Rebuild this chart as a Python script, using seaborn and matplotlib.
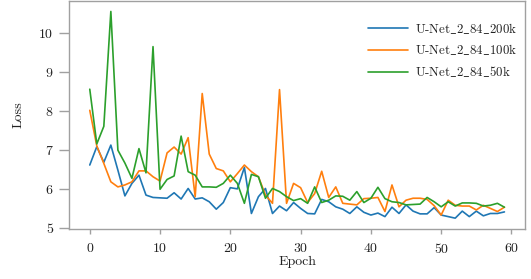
import matplotlib
matplotlib.use("Agg")
import matplotlib.pyplot as plt
import seaborn as sns
import pandas as pd

epochs = list(range(60))

loss_200k = [6.61, 7.08, 6.68, 7.12, 6.48, 5.82, 6.14, 6.35, 5.84, 5.78,
             5.77, 5.76, 5.90, 5.74, 6.01, 5.74, 5.77, 5.67, 5.48, 5.65,
             6.03, 6.00, 6.55, 5.37, 5.80, 6.01, 5.37, 5.56, 5.44, 5.65,
             5.50, 5.37, 5.36, 5.73, 5.67, 5.54, 5.48, 5.37, 5.54, 5.40,
             5.33, 5.38, 5.29, 5.53, 5.37, 5.59, 5.43, 5.36, 5.36, 5.52,
             5.33, 5.29, 5.25, 5.43, 5.29, 5.43, 5.31, 5.37, 5.37, 5.41]

loss_100k = [8.01, 7.10, 6.65, 6.18, 6.05, 6.10, 6.18, 6.46, 6.46, 6.31,
             6.20, 6.92, 7.07, 6.89, 7.31, 5.80, 8.44, 6.89, 6.52, 6.46,
             6.18, 6.39, 6.61, 6.44, 6.31, 5.84, 5.63, 8.54, 5.63, 6.14,
             6.03, 5.65, 5.88, 6.45, 5.78, 6.05, 5.63, 5.61, 5.59, 5.75,
             5.76, 5.78, 5.42, 6.10, 5.54, 5.71, 5.76, 5.76, 5.73, 5.57,
             5.33, 5.71, 5.58, 5.56, 5.56, 5.46, 5.58, 5.50, 5.42, 5.53]

loss_50k = [8.55, 7.15, 7.60, 10.54, 6.99, 6.66, 6.27, 7.03, 6.41, 9.64,
            5.99, 6.24, 6.33, 7.35, 6.44, 6.35, 6.05, 6.05, 6.04, 6.14,
            6.35, 6.14, 5.63, 6.37, 6.31, 5.76, 6.01, 5.93, 5.80, 5.70,
            5.75, 5.63, 6.05, 5.65, 5.71, 5.82, 5.81, 5.71, 5.93, 5.65,
            5.76, 6.04, 5.75, 5.67, 5.65, 5.59, 5.60, 5.61, 5.78, 5.67,
            5.54, 5.67, 5.56, 5.64, 5.64, 5.63, 5.56, 5.58, 5.63, 5.53]

# cmr10 has no plain underscore glyph, so the underscores go through mathtext
models = [r"U-Net$\_$2$\_$84$\_$200k", r"U-Net$\_$2$\_$84$\_$100k",
          r"U-Net$\_$2$\_$84$\_$50k"]

df = pd.DataFrame({
    "Epoch": epochs * 3,
    "Loss": loss_200k + loss_100k + loss_50k,
    "Model": [models[0]] * 60 + [models[1]] * 60 + [models[2]] * 60,
})

sns.set_style("ticks")
plt.rcParams["font.family"] = ["cmr10", "DejaVu Serif"]
plt.rcParams["axes.formatter.use_mathtext"] = True
plt.rcParams["mathtext.fontset"] = "cm"

fig = plt.figure(figsize=(5.31, 2.79), dpi=100)
ax = fig.add_axes([0.130, 0.181, 0.859, 0.815])

sns.lineplot(data=df, x="Epoch", y="Loss", hue="Model", palette="tab10",
             linewidth=1.2, ax=ax)

for side in ax.spines.values():
    side.set_color("#a0a0a0")
    side.set_linewidth(1.0)
ax.tick_params(colors="#a0a0a0", labelcolor="#222222", labelsize=10, width=1.0)
ax.tick_params(axis="x", length=3.8, pad=6)
ax.tick_params(axis="y", length=7, pad=4)
ax.set_xticks(range(0, 61, 10))
ax.set_yticks(range(5, 11))
ax.set_xlabel("Epoch", fontsize=10, color="#222222", labelpad=0)
ax.set_ylabel("Loss", fontsize=10, color="#222222", labelpad=10)

ax.legend(frameon=False, loc="upper right", fontsize=9.3, handlelength=3.1,
          handletextpad=0.5, labelspacing=0.55, bbox_to_anchor=(1.007, 0.965),
          labelcolor="#222222")

fig.savefig("out.png", dpi=100)
